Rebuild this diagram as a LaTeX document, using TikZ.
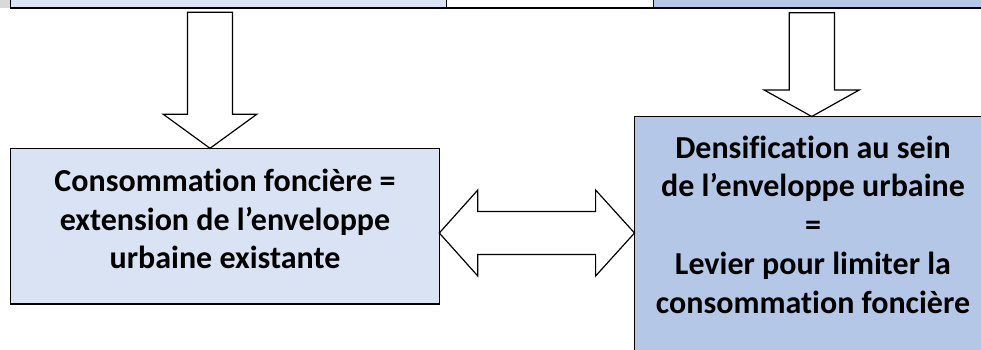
\documentclass[tikz,border=0pt]{standalone}
\usepackage{fontspec}
\setmainfont{Carlito}[Ligatures=NoCommon]
\definecolor{boxlight}{HTML}{DAE3F3}
\definecolor{boxdark}{HTML}{B4C7E7}
\definecolor{boxgray}{HTML}{D9D9D9}
\begin{document}
\begin{tikzpicture}[x=1pt,y=-1pt,
  panel/.style={draw=black,line width=1.3pt,inner sep=0pt,outer sep=0pt},
  blockarrow/.style={draw=black,fill=white,line width=1.2pt,line join=miter},
  txt/.style={font=\bfseries\fontsize{32}{38}\selectfont,anchor=base,inner sep=0pt}]
\useasboundingbox (0,0) rectangle (981,349);
\clip (0,0) rectangle (981,349);
% top strip (bottoms of boxes above)
\fill[boxgray] (0,-5) rectangle (10.7,8);
\node[panel,fill=boxlight,anchor=south west,minimum width=435.8pt,minimum height=30pt] (topL) at (10.7,8) {};
\node[panel,fill=white,anchor=south west,minimum width=207.3pt,minimum height=30pt] (topM) at (446.5,8) {};
\node[panel,fill=boxdark,anchor=south west,minimum width=340pt,minimum height=30pt] (topR) at (653.8,8) {};
% main boxes
\node[panel,fill=boxlight,anchor=north west,minimum width=428.6pt,minimum height=155.7pt] (left) at (10.7,148.3) {};
\node[panel,fill=boxdark,anchor=north west,minimum width=360pt,minimum height=260pt] (right) at (634.5,116.5) {};
% texts
\node[txt] (l1) at (225,191.7) {Consommation foncière =};
\node[txt] (l2) at (225,230) {extension de l’enveloppe};
\node[txt] (l3) at (225,268.3) {urbaine existante};
\node[txt] (r1) at (813,158.3) {Densification au sein};
\node[txt] (r2) at (813,196.7) {de l’enveloppe urbaine};
\node[txt] (r3) at (813,235.5) {=};
\node[txt] (r4) at (813,274.3) {Levier pour limiter la};
\node[txt] (r5) at (813,313) {consommation foncière};
% block arrows
\draw[blockarrow] (187.5,12.3) -- (232.5,12.3) -- (232.5,114.3) -- (256.7,114.3)
  -- (210,0 |- left.north) -- (163.3,114.3) -- (187.5,114.3) -- cycle;
\draw[blockarrow] (789.2,12.7) -- (834.4,12.7) -- (834.4,90) -- (859.2,90)
  -- (811.7,0 |- right.north) -- (764.2,90) -- (789.2,90) -- cycle;
\draw[blockarrow] (left.east |- 0,233) -- (477.8,190) -- (477.8,211.5) -- (595.6,211.5)
  -- (595.6,190) -- (right.west |- 0,233) -- (595.6,276) -- (595.6,254.5)
  -- (477.8,254.5) -- (477.8,276) -- cycle;
\end{tikzpicture}
\end{document}
